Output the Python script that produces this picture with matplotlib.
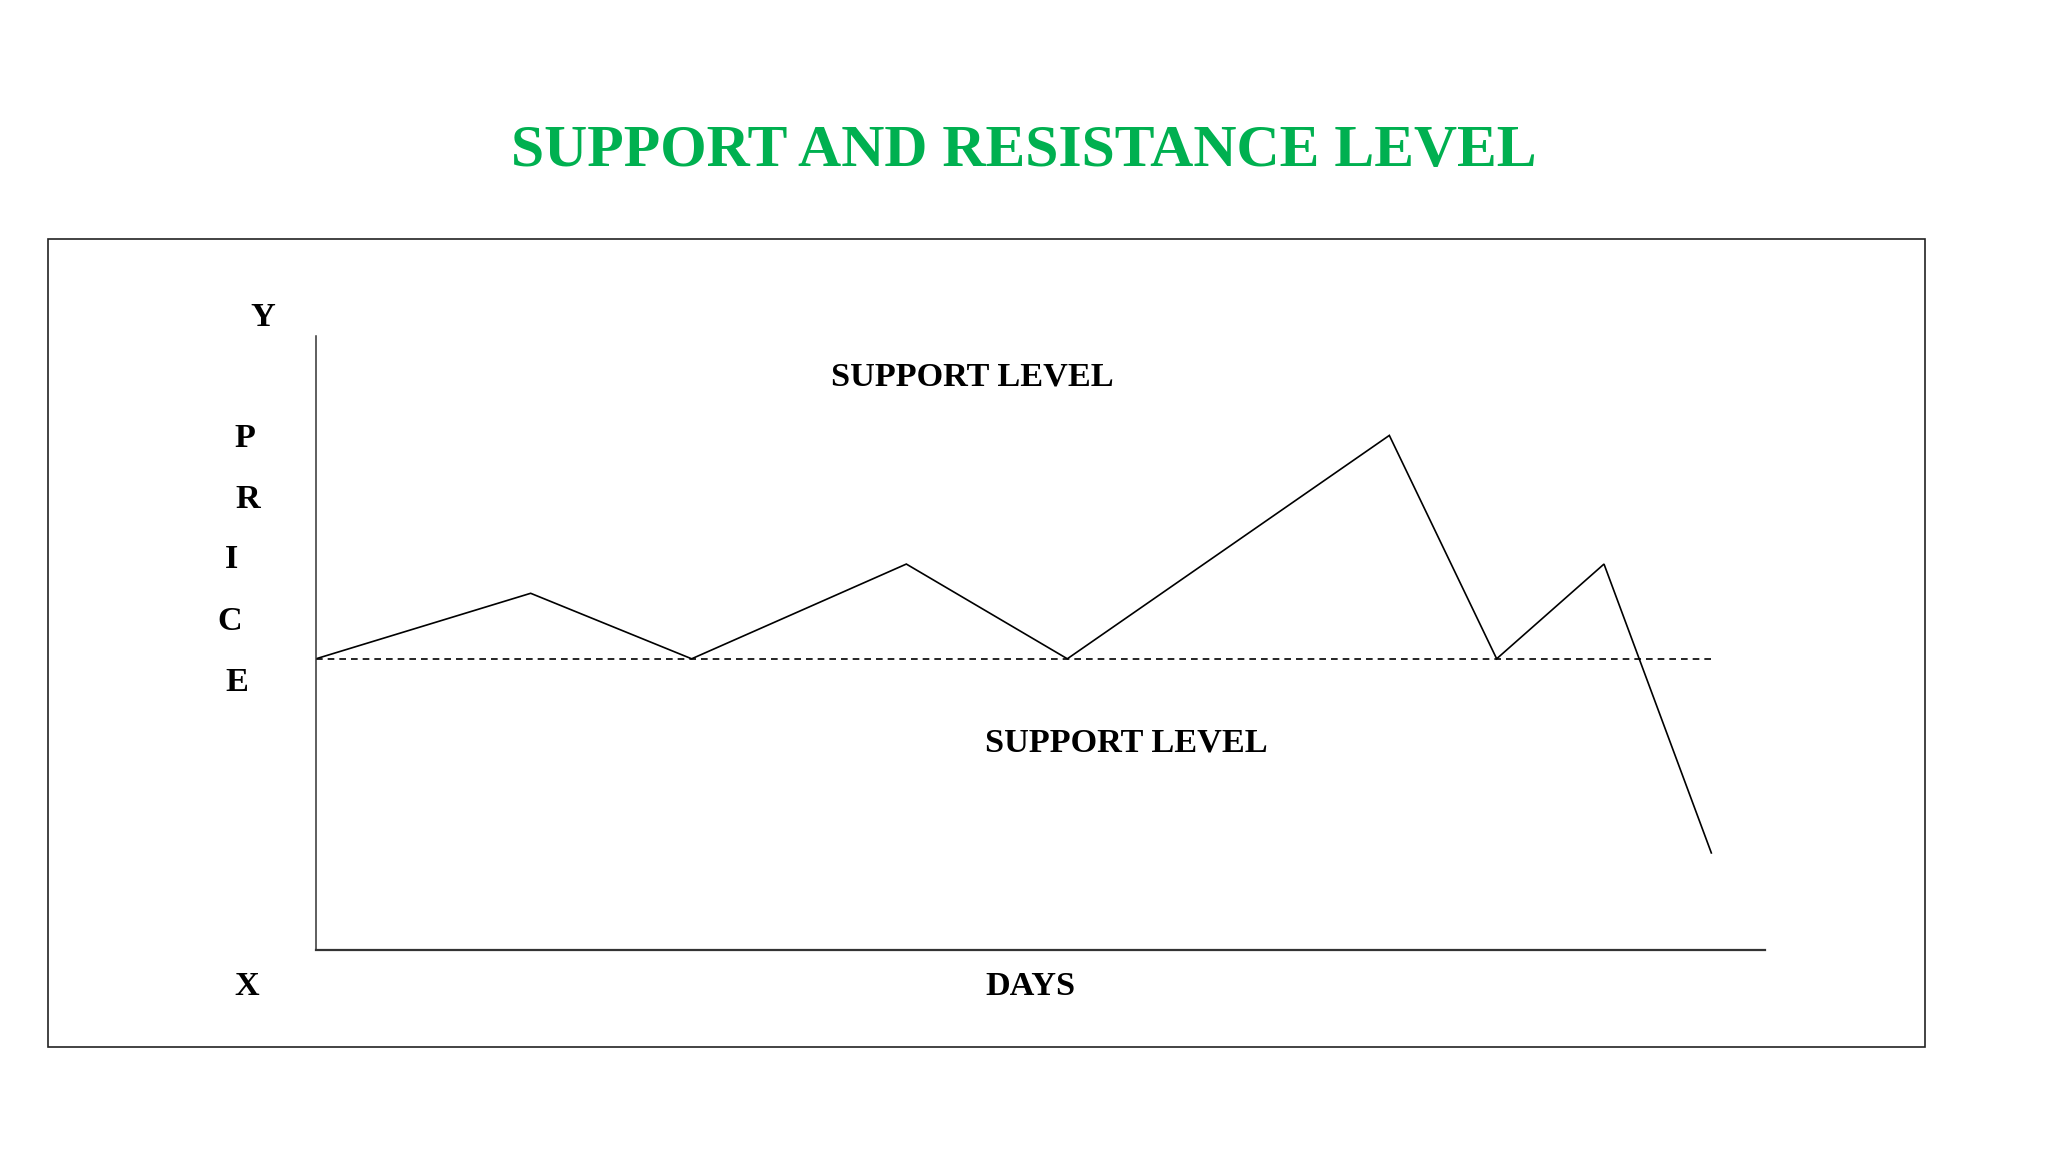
import matplotlib.pyplot as plt
from matplotlib.patches import Rectangle

# price path (days vs price)
days = [0, 4, 7, 11, 14, 20, 22, 24, 26]
price = [49.8, 61, 49.8, 66, 49.8, 88, 49.8, 66, 16.6]
support_days = [0, 26]
support_price = [49.8, 49.8]

title = "SUPPORT AND RESISTANCE LEVEL"
level_labels = ["SUPPORT LEVEL", "SUPPORT LEVEL"]
y_letters = ["Y", "P", "R", "I", "C", "E"]

W, H = 2048, 1152
plt.rcParams["font.family"] = ["Liberation Serif", "DejaVu Serif"]

fig = plt.figure(figsize=(W / 100, H / 100), dpi=100, facecolor="white")


def fx(px):
    return px / W


def fy(py):
    return 1 - py / H


# outer frame
fig.patches.append(Rectangle((fx(48), fy(1047)), fx(1925) - fx(48), fy(239) - fy(1047),
                             transform=fig.transFigure, fill=False,
                             edgecolor="#222222", linewidth=1.2))

ax = fig.add_axes([fx(316), fy(950), fx(1765) - fx(316), fy(336) - fy(950)])
ax.set_facecolor("none")
ax.plot(days, price, color="black", linewidth=1.2, solid_joinstyle="miter")
ax.plot(support_days, support_price, color="black", linewidth=1.2,
        linestyle=(0, (4, 3)))
ax.set_xlim(0, 27.0)
ax.set_ylim(0, 105)
ax.set_xticks([])
ax.set_yticks([])
for side in ["top", "right"]:
    ax.spines[side].set_visible(False)
ax.spines["left"].set_color("#333333")
ax.spines["bottom"].set_color("#333333")
ax.spines["left"].set_linewidth(1.1)
ax.spines["bottom"].set_linewidth(1.6)

fig.text(0.5, fy(166), title, color="#00B050", fontsize=43, fontweight="bold",
         ha="center", va="baseline")

fig.text(fx(972), fy(386), level_labels[0], fontsize=24.7, fontweight="bold",
         ha="center", va="baseline")
fig.text(fx(1126), fy(751), level_labels[1], fontsize=24.7, fontweight="bold",
         ha="center", va="baseline")

letter_x = [263, 245, 248, 232, 230, 237]
letter_y = [326, 447, 508, 568, 630, 691]
for ch, lx, ly in zip(y_letters, letter_x, letter_y):
    fig.text(fx(lx), fy(ly), ch, fontsize=24.7, fontweight="bold",
             ha="center", va="baseline")

fig.text(fx(247), fy(995), "X", fontsize=24.7, fontweight="bold", ha="center", va="baseline")
fig.text(fx(1030), fy(995), "DAYS", fontsize=24.7, fontweight="bold", ha="center", va="baseline")

fig.savefig("out.png", dpi=100, facecolor="white")
